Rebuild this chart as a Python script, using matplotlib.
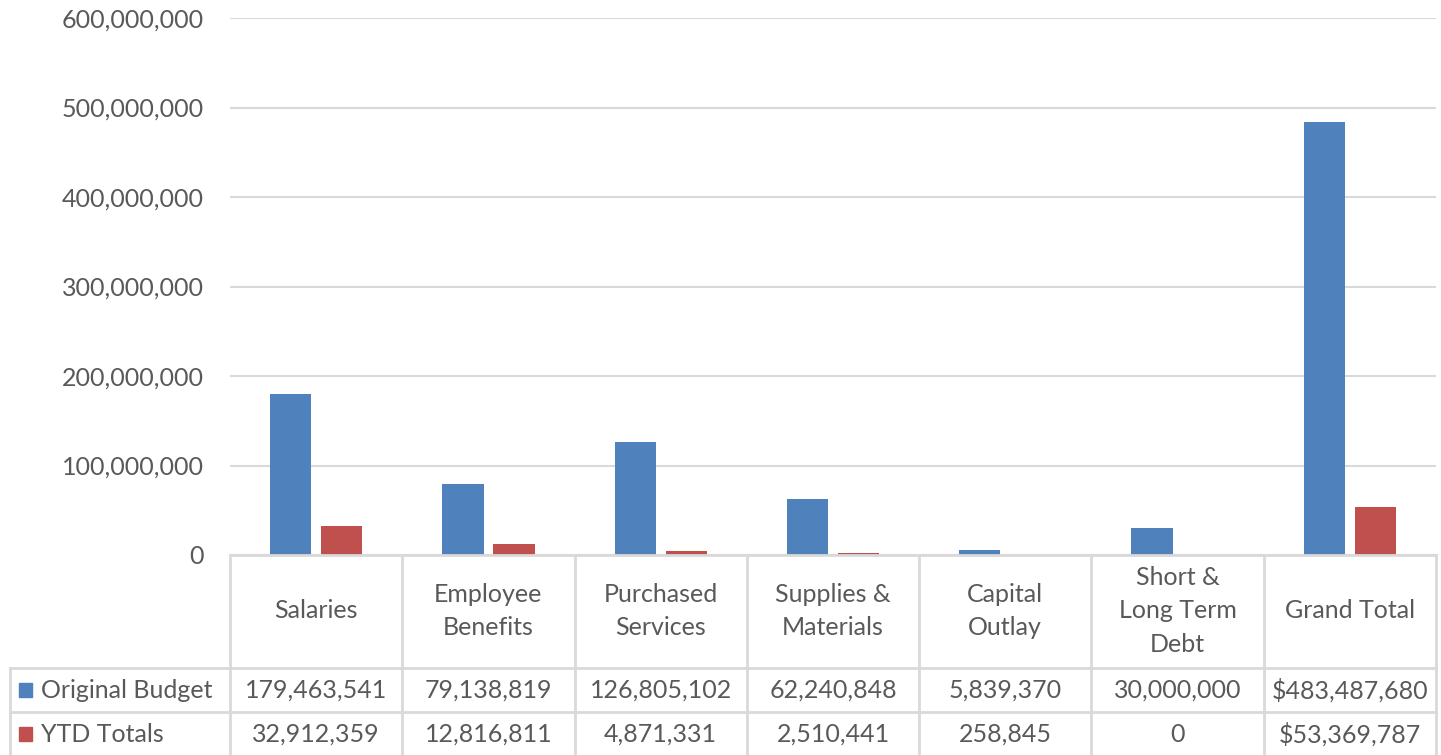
import matplotlib.pyplot as plt
import numpy as np
from matplotlib.ticker import FuncFormatter

# -----------------------------
# DATA
# -----------------------------
CATEGORIES = [
    "Salaries",
    "Employee\nBenefits",
    "Purchased\nServices",
    "Supplies &\nMaterials",
    "Capital\nOutlay",
    "Short &\nLong Term\nDebt",
    "Grand Total",
]
ORIGINAL_BUDGET = [179463541, 79138819, 126805102, 62240848, 5839370, 30000000, 483487680]
YTD_TOTALS = [32912359, 12816811, 4871331, 2510441, 258845, 0, 53369787]
SERIES_NAMES = ["Original Budget", "YTD Totals"]
Y_TICKS = [0, 100000000, 200000000, 300000000, 400000000, 500000000, 600000000]

# -----------------------------
# STYLE
# -----------------------------
BLUE = "#4F81BD"
RED = "#C0504D"
GRID = "#D9D9D9"
TEXT = "#595959"
FONT = ["Lato", "DejaVu Sans"]
FS = 18

W, H = 1441, 755
plt.rcParams["font.family"] = FONT

fig = plt.figure(figsize=(W / 100, H / 100), dpi=100)

# plot area in pixel coordinates
left, right, top, bottom = 230, 1436, 18, 555
ax = fig.add_axes([left / W, 1 - bottom / H, (right - left) / W, (bottom - top) / H])

n = len(CATEGORIES)
x = np.arange(n)
bw = 0.24
off = 0.148
ax.bar(x - off, ORIGINAL_BUDGET, width=bw, color=BLUE, zorder=3)
ax.bar(x + off, YTD_TOTALS, width=bw, color=RED, zorder=3)

ax.set_xlim(-0.5, n - 0.5)
ax.set_ylim(0, 600000000)
ax.set_yticks(Y_TICKS)
ax.yaxis.set_major_formatter(FuncFormatter(lambda v, p: f"{int(v):,}"))
ax.tick_params(axis="y", length=0, pad=19, labelsize=FS, labelcolor=TEXT)
ax.set_xticks([])
ax.grid(True, axis="y", color=GRID, linewidth=1.5, zorder=0)
for s in ax.spines.values():
    s.set_visible(False)

# -----------------------------
# DATA TABLE (overlay in pixel coords)
# -----------------------------
ov = fig.add_axes([0, 0, 1, 1], facecolor="none")
ov.set_xlim(0, W)
ov.set_ylim(H, 0)
ov.axis("off")

col_w = (right - left) / n
row_head_bot = 668
row1_bot = 712
legend_left = 10
lw = 2

ov.plot([left, right], [bottom, bottom], color=GRID, lw=lw)
ov.plot([legend_left, right], [row_head_bot, row_head_bot], color=GRID, lw=lw)
ov.plot([legend_left, right], [row1_bot, row1_bot], color=GRID, lw=lw)
ov.plot([legend_left, legend_left], [row_head_bot, H], color=GRID, lw=lw)
for i in range(n + 1):
    xx = left + i * col_w
    ov.plot([xx, xx], [bottom, H], color=GRID, lw=lw)


def fmt(v, dollar):
    return ("$" if dollar else "") + f"{v:,}"


row_y = [690, 734]
for i, cat in enumerate(CATEGORIES):
    cx = left + (i + 0.5) * col_w
    ov.text(cx, 611, cat, ha="center", va="center",
            fontsize=FS, color=TEXT, linespacing=1.55)
    dollar = i == n - 1
    ov.text(cx, row_y[0], fmt(ORIGINAL_BUDGET[i], dollar),
            ha="center", va="center", fontsize=FS, color=TEXT)
    ov.text(cx, row_y[1], fmt(YTD_TOTALS[i], dollar),
            ha="center", va="center", fontsize=FS, color=TEXT)

for name, color, yy in zip(SERIES_NAMES, [BLUE, RED], row_y):
    ov.add_patch(plt.Rectangle((19, yy - 7), 13, 14, color=color))
    ov.text(41, yy, name, ha="left", va="center", fontsize=FS, color=TEXT)

fig.savefig("out.png", dpi=100)
